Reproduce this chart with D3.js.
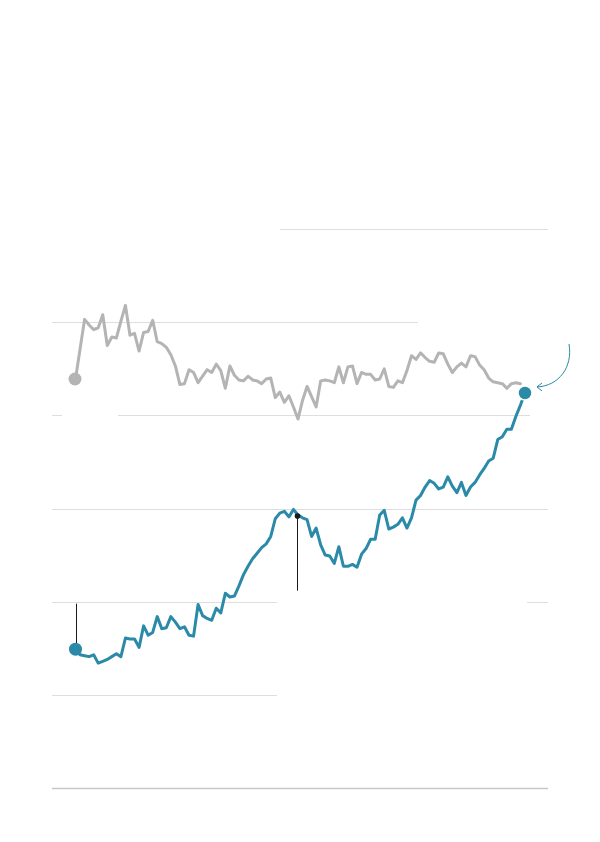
<!DOCTYPE html>
<html>
<head>
<meta charset="utf-8">
<script src="https://cdn.jsdelivr.net/npm/d3@7"></script>
<style>
  html, body { margin: 0; padding: 0; background: #fff; }
  svg { display: block; }
</style>
</head>
<body>
<svg id="chart" width="600" height="842"></svg>
<script>
// ---- DATA ----
const gridValues = [0, 1, 2, 3, 4, 5, 6];

const greySeries = [
  4.39, 4.71, 5.03, 4.97, 4.92, 4.94, 5.08, 4.75, 4.84, 4.83,
  5.01, 5.18, 4.86, 4.88, 4.69, 4.89, 4.90, 5.02, 4.79, 4.77,
  4.73, 4.65, 4.53, 4.33, 4.34, 4.49, 4.46, 4.35, 4.42, 4.49,
  4.46, 4.55, 4.48, 4.29, 4.53, 4.43, 4.38, 4.37, 4.42, 4.38,
  4.37, 4.34, 4.39, 4.40, 4.19, 4.25, 4.14, 4.21, 4.09, 3.96,
  4.16, 4.31, 4.20, 4.09, 4.37, 4.38, 4.37, 4.35, 4.52, 4.35,
  4.52, 4.53, 4.34, 4.46, 4.44, 4.44, 4.38, 4.39, 4.50, 4.31,
  4.30, 4.37, 4.35, 4.48, 4.64, 4.60, 4.67, 4.62, 4.58, 4.57,
  4.67, 4.66, 4.55, 4.46, 4.52, 4.56, 4.52, 4.64, 4.63, 4.54,
  4.49, 4.40, 4.36, 4.35, 4.34, 4.29, 4.34, 4.35, 4.34
];

const tealSeries = [
  1.49, 1.43, 1.42, 1.41, 1.43, 1.34, 1.36, 1.38, 1.41, 1.44,
  1.41, 1.61, 1.60, 1.60, 1.51, 1.74, 1.64, 1.67, 1.84, 1.71,
  1.72, 1.84, 1.78, 1.71, 1.73, 1.64, 1.63, 1.97, 1.85, 1.82,
  1.80, 1.93, 1.88, 2.09, 2.05, 2.06, 2.17, 2.29, 2.38, 2.46,
  2.52, 2.58, 2.62, 2.70, 2.89, 2.95, 2.97, 2.91, 2.99, 2.93,
  2.90, 2.88, 2.70, 2.79, 2.61, 2.50, 2.49, 2.41, 2.59, 2.38,
  2.38, 2.40, 2.37, 2.51, 2.57, 2.67, 2.67, 2.93, 2.98, 2.78,
  2.80, 2.83, 2.90, 2.79, 2.90, 3.09, 3.14, 3.23, 3.30, 3.27,
  3.21, 3.23, 3.34, 3.24, 3.17, 3.28, 3.14, 3.23, 3.28, 3.36,
  3.43, 3.51, 3.54, 3.74, 3.77, 3.85, 3.85, 3.99, 4.11, 4.24
];

const markerIndex = 49; // highlighted point on teal series

// ---- LAYOUT ----
const svg = d3.select("#chart");
const x = d3.scaleLinear().domain([0, 99]).range([75.5, 525]);
const y = d3.scaleLinear().domain([0, 6]).range([788, 229]);

const TEAL = "#2a8aa8";
const GREY = "#b4b4b4";

// gridline segments (gaps where labels were masked)
const gridSegments = {
  6: [[280, 548]],
  5: [[52, 418]],
  4: [[52, 62], [118, 530]],
  3: [[52, 548]],
  2: [[52, 277], [527, 548]],
  1: [[52, 277]],
  0: [[52, 548]]
};

const grid = svg.append("g");
gridValues.forEach(v => {
  gridSegments[v].forEach(([a, b]) => {
    grid.append("line")
      .attr("x1", a).attr("x2", b)
      .attr("y1", Math.round(y(v)) + 0.5).attr("y2", Math.round(y(v)) + 0.5)
      .attr("stroke", v === 0 ? "#c8c8c8" : "#dedede")
      .attr("stroke-width", v === 0 ? 1.5 : 1);
  });
});

const line = d3.line().x((d, i) => x(i)).y(d => y(d));

// annotation leader lines (pixel-snapped)
const lx0 = Math.round(x(0)) + 0.5;
svg.append("line")
  .attr("x1", lx0).attr("x2", lx0)
  .attr("y1", y(2) + 2).attr("y2", y(tealSeries[0]))
  .attr("stroke", "#1a1a1a").attr("stroke-width", 1);

const lxm = Math.floor(x(markerIndex)) + 0.5;
svg.append("line")
  .attr("x1", lxm).attr("x2", lxm)
  .attr("y1", y(tealSeries[markerIndex])).attr("y2", y(2) - 11)
  .attr("stroke", "#1a1a1a").attr("stroke-width", 1);

// grey series
svg.append("path")
  .datum(greySeries)
  .attr("d", line)
  .attr("fill", "none")
  .attr("stroke", GREY)
  .attr("stroke-width", 3)
  .attr("stroke-linejoin", "round")
  .attr("stroke-linecap", "round");

svg.append("circle")
  .attr("cx", x(0) - 0.5).attr("cy", y(greySeries[0]))
  .attr("r", 6.5).attr("fill", GREY);

// teal series
svg.append("path")
  .datum(tealSeries)
  .attr("d", line)
  .attr("fill", "none")
  .attr("stroke", TEAL)
  .attr("stroke-width", 3)
  .attr("stroke-linejoin", "round")
  .attr("stroke-linecap", "round");

svg.append("circle")
  .attr("cx", x(0)).attr("cy", y(tealSeries[0]))
  .attr("r", 6.5).attr("fill", TEAL);

svg.append("circle")
  .attr("cx", lxm).attr("cy", y(tealSeries[markerIndex]) + 1)
  .attr("r", 2.8).attr("fill", "#1a1a1a");

const last = tealSeries.length - 1;
svg.append("circle")
  .attr("cx", x(last)).attr("cy", y(tealSeries[last]))
  .attr("r", 7).attr("fill", TEAL)
  .attr("stroke", "#fff").attr("stroke-width", 1.5);

// curved arrow pointing to the last point
const ex = x(last) + 12, ey = y(tealSeries[last]) - 6;
svg.append("path")
  .attr("d", `M${ex + 32},${ey - 43} C${ex + 36},${ey - 20} ${ex + 22},${ey - 1} ${ex},${ey}`)
  .attr("fill", "none").attr("stroke", TEAL).attr("stroke-width", 1);
svg.append("path")
  .attr("d", `M${ex + 5},${ey - 4} L${ex},${ey} L${ex + 5},${ey + 4}`)
  .attr("fill", "none").attr("stroke", TEAL).attr("stroke-width", 1);
</script>
</body>
</html>
